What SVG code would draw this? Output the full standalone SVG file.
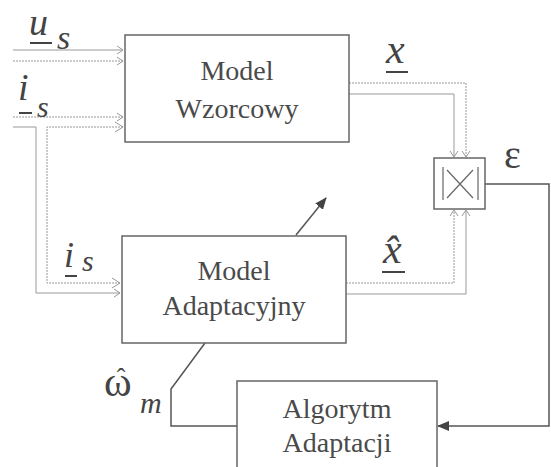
<svg xmlns="http://www.w3.org/2000/svg" width="551" height="467" viewBox="0 0 551 467">
<style>
.box{fill:none;stroke:#666;stroke-width:1.5}
text{font-family:'Times New Roman','Liberation Serif','Noto Serif','DejaVu Serif',Times,serif}
.lbl{fill:#4a4a4a;text-anchor:middle;font-size:28px}
.sym{fill:#444;font-style:italic}
.up{fill:#444}
.pipe{fill:none;stroke:#999;stroke-width:1}
.dot{stroke-dasharray:2 1}
.wire{fill:none;stroke:#555;stroke-width:1.5}
.ul{stroke:#444;stroke-width:2}
</style>
<defs>
<marker id="chev" markerWidth="8" markerHeight="10" refX="7" refY="5" orient="auto" markerUnits="userSpaceOnUse">
<path d="M1,1 L7,5 L1,9" fill="none" stroke="#999" stroke-width="1"/>
</marker>
<marker id="solid" markerWidth="12" markerHeight="10" refX="11" refY="5" orient="auto" markerUnits="userSpaceOnUse">
<path d="M0,0 L12,5 L0,10 Z" fill="#444"/>
</marker>
</defs>

<g id="connectors">
<path class="pipe" d="M13,50 H123" marker-end="url(#chev)"/>
<path class="pipe dot" d="M13,61 H123" marker-end="url(#chev)"/>
<path class="pipe dot" d="M13,117 H123" marker-end="url(#chev)"/>
<path class="pipe" d="M13,127 H36 V293 H120" marker-end="url(#chev)"/>
<path class="pipe dot" d="M123,127 H47 V283 H120"/>
<path class="pipe" d="M115,122 L123,127 L115,132"/>
<path class="pipe" d="M112,278 L120,283 L112,288"/>
<path class="pipe dot" d="M349,83 H466 V157" marker-end="url(#chev)"/>
<path class="pipe" d="M349,94 H454 V157" marker-end="url(#chev)"/>
<path class="pipe dot" d="M346,283 H454 V210" marker-end="url(#chev)"/>
<path class="pipe" d="M346,294 H466 V210" marker-end="url(#chev)"/>
<path class="wire" d="M485,184 H549 V426 H438" marker-end="url(#solid)"/>
<path class="wire" d="M237,426 H171 V389 L205,343"/>
<path class="wire" d="M296,235 L326,198" marker-end="url(#solid)"/>
</g>

<g id="model-wzorcowy">
<rect class="box" x="125" y="35" width="224" height="107"/>
<text class="lbl" x="237" y="80">Model</text>
<text class="lbl" x="237" y="118">Wzorcowy</text>
</g>

<g id="model-adaptacyjny">
<rect class="box" x="122" y="236" width="224" height="107"/>
<text class="lbl" x="234" y="280">Model</text>
<text class="lbl" x="234" y="315">Adaptacyjny</text>
</g>

<g id="algorytm-adaptacji">
<rect class="box" x="237" y="381" width="200" height="100"/>
<text class="lbl" x="337" y="418">Algorytm</text>
<text class="lbl" x="337" y="452">Adaptacji</text>
</g>

<g id="comparator">
<rect class="box" x="434" y="158" width="51" height="51"/>
<path d="M443,167 V200 M478,167 V200 M447,170 L473,198 M473,170 L447,198" stroke="#666" stroke-width="1.2" fill="none"/>
</g>

<g id="labels">
<text class="sym" x="29" y="35" font-size="38">u</text>
<line class="ul" x1="30" y1="43" x2="52" y2="43"/>
<text class="sym" x="57" y="49" font-size="34">s</text>

<text class="sym" x="18" y="100" font-size="38">i</text>
<line class="ul" x1="19" y1="113" x2="32" y2="113"/>
<text class="sym" x="37" y="117" font-size="30">s</text>

<text class="sym" x="64" y="267" font-size="36">i</text>
<line class="ul" x1="65" y1="276" x2="77" y2="276"/>
<text class="sym" x="82" y="271" font-size="30">s</text>

<text class="sym" x="386" y="63" font-size="42">x</text>
<line class="ul" x1="386" y1="72" x2="408" y2="72"/>

<text class="sym" x="383" y="263" font-size="42">x̂</text>
<line class="ul" x1="382" y1="272" x2="405" y2="272"/>

<text class="up" x="504" y="168" font-size="40">ε</text>

<text class="up" x="104" y="396" font-size="42">ω<tspan font-size="26" dx="-15" dy="-10">ˆ</tspan></text>
<text class="sym" x="140" y="413" font-size="30">m</text>
</g>
</svg>
